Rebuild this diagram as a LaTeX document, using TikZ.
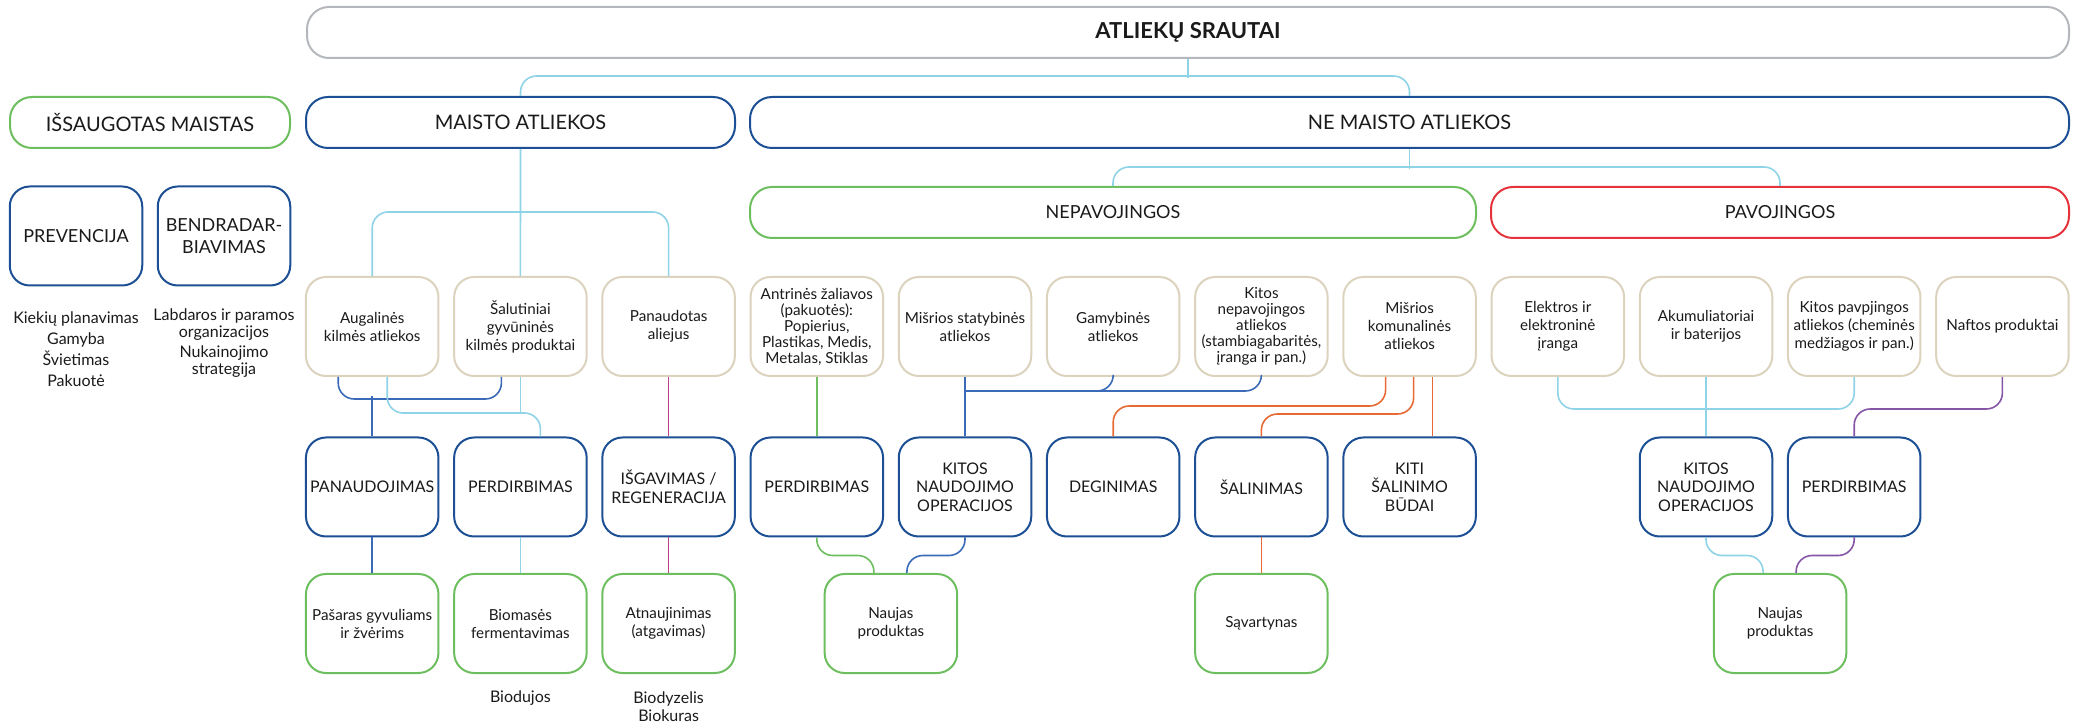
\documentclass[tikz,border=0pt]{standalone}
\usepackage{fontspec}
\setmainfont{Lato}
\usetikzlibrary{calc}
\definecolor{txt}{HTML}{1A1A1A}
\definecolor{gbox}{HTML}{B4B8BD}
\definecolor{dblue}{HTML}{1D4F94}
\definecolor{bgreen}{HTML}{6DBE5E}
\definecolor{bred}{HTML}{E5333B}
\definecolor{beige}{HTML}{DCD3BE}
\definecolor{lblue}{HTML}{8ED3E6}
\definecolor{cblue}{HTML}{3B6BB8}
\definecolor{corange}{HTML}{E86A33}
\definecolor{cmagenta}{HTML}{B8408F}
\definecolor{cpurple}{HTML}{8656A6}
\begin{document}
\begin{tikzpicture}[x=0.5pt,y=-0.5pt,
  box/.style={draw, line width=1pt, rounded corners=10pt, align=center, inner sep=0pt, text=txt},
  srcbox/.style={box, draw=beige, minimum width=66.25pt, minimum height=49.5pt, font=\fontsize{7.6}{9}\selectfont},
  opbox/.style={box, draw=dblue, minimum width=66.25pt, minimum height=49.5pt, font=\fontsize{8}{9.3}\selectfont},
  resbox/.style={box, draw=bgreen, minimum width=66.25pt, minimum height=49.5pt, font=\fontsize{7.6}{9}\selectfont},
  widebox/.style={box, minimum height=25.5pt, rounded corners=11pt},
  note/.style={align=center, inner sep=0pt, text=txt, font=\fontsize{8}{10.5}\selectfont},
  conn/.style={line width=0.8pt, rounded corners=8pt}]
\useasboundingbox (0,0) rectangle (2082,726);
% levels 1-3
\node[widebox, draw=gbox, minimum width=881pt, font=\fontsize{11}{13}\selectfont\bfseries] (srautai) at (1188,32.5) {ATLIEKŲ SRAUTAI};
\node[widebox, draw=bgreen, minimum width=140pt, font=\fontsize{10}{12}\selectfont] (issaug) at (150,122.5) {IŠSAUGOTAS MAISTAS};
\node[widebox, draw=dblue, minimum width=214.5pt, font=\fontsize{10}{12}\selectfont] (maisto) at (520.5,122.5) {MAISTO ATLIEKOS};
\node[widebox, draw=dblue, minimum width=659.5pt, font=\fontsize{10}{12}\selectfont] (nemaisto) at (1409.5,122.5) {NE MAISTO ATLIEKOS};
\node[widebox, draw=bgreen, minimum width=363pt, font=\fontsize{9}{11}\selectfont] (nepav) at (1113,212.5) {NEPAVOJINGOS};
\node[widebox, draw=bred, minimum width=289pt, font=\fontsize{9}{11}\selectfont] (pav) at (1780,212.5) {PAVOJINGOS};
\node[opbox, font=\fontsize{9}{11}\selectfont] (prev) at (76,236) {PREVENCIJA};
\node[opbox, font=\fontsize{9}{11}\selectfont] (bendr) at (224,236) {BENDRADAR-\\BIAVIMAS};
\node[note] (prevnote) at (76,349) {Kiekių planavimas\\Gamyba\\Švietimas\\Pakuotė};
\node[note, font=\fontsize{8}{8.5}\selectfont] (bendrnote) at (224,343.5) {Labdaros ir paramos\\organizacijos\\[1.5pt]Nukainojimo\\strategija};
% sources
\node[srcbox] (augal) at (372.2,326.5) {Augalinės\\kilmės atliekos};
\node[srcbox] (salut) at (520.4,326.5) {Šalutiniai\\gyvūninės\\kilmės produktai};
\node[srcbox] (aliejus) at (668.6,326.5) {Panaudotas\\aliejus};
\node[srcbox, font=\fontsize{7.6}{8}\selectfont] (antrin) at (816.8,326.5) {Antrinės žaliavos\\(pakuotės):\\Popierius,\\Plastikas, Medis,\\Metalas, Stiklas};
\node[srcbox] (statyb) at (965,326.5) {Mišrios statybinės\\atliekos};
\node[srcbox] (gamyb) at (1113.2,326.5) {Gamybinės\\atliekos};
\node[srcbox, font=\fontsize{7.6}{8}\selectfont] (kitnep) at (1261.4,326.5) {Kitos\\nepavojingos\\atliekos\\(stambiagabaritės,\\įranga ir pan.)};
\node[srcbox] (komun) at (1409.6,326.5) {Mišrios\\komunalinės\\atliekos};
\node[srcbox] (elekt) at (1557.8,326.5) {Elektros ir\\elektroninė\\įranga};
\node[srcbox] (akum) at (1706,326.5) {Akumuliatoriai\\ir baterijos};
\node[srcbox] (kitpav) at (1854.2,326.5) {Kitos pavpjingos\\atliekos (cheminės\\medžiagos ir pan.)};
\node[srcbox] (nafta) at (2002.4,326.5) {Naftos produktai};
% operations
\node[opbox] (panaud) at (372.2,487) {PANAUDOJIMAS};
\node[opbox] (perdirA) at (520.4,487) {PERDIRBIMAS};
\node[opbox] (isgav) at (668.6,487) {IŠGAVIMAS /\\REGENERACIJA};
\node[opbox] (perdirB) at (816.8,487) {PERDIRBIMAS};
\node[opbox] (kitosA) at (965,487) {KITOS\\NAUDOJIMO\\OPERACIJOS};
\node[opbox] (degin) at (1113.2,487) {DEGINIMAS};
\node[opbox] (salin) at (1261.4,487) {ŠALINIMAS};
\node[opbox] (kiti) at (1409.6,487) {KITI\\ŠALINIMO\\BŪDAI};
\node[opbox] (kitosB) at (1706,487) {KITOS\\NAUDOJIMO\\OPERACIJOS};
\node[opbox] (perdirC) at (1854.2,487) {PERDIRBIMAS};
% results
\node[resbox] (pasaras) at (372.2,623.5) {Pašaras gyvuliams\\ir žvėrims};
\node[resbox] (biomas) at (520.4,623.5) {Biomasės\\fermentavimas};
\node[resbox] (atnauj) at (668.6,623.5) {Atnaujinimas\\(atgavimas)};
\node[resbox] (naujasA) at (890.9,623.5) {Naujas\\produktas};
\node[resbox] (savart) at (1261.4,623.5) {Sąvartynas};
\node[resbox] (naujasB) at (1780.1,623.5) {Naujas\\produktas};
\node[note] (biodujos) at (520.4,698) {Biodujos};
\node[note, font=\fontsize{8}{9}\selectfont] (biokuras) at (668.6,707) {Biodyzelis\\Biokuras};
% connectors
\draw[conn, lblue] (srautai.south) -- ++(0,19);
\draw[conn, lblue] (maisto.north) -- ++(0,-20) -| (nemaisto.north);
\draw[conn, lblue] (nemaisto.south) -- ++(0,20);
\draw[conn, lblue] (nepav.north) -- ++(0,-19) -| (pav.north);
\draw[conn, lblue] (maisto.south) -- (salut.north);
\draw[conn, lblue] (augal.north) -- ++(0,-64) -| (aliejus.north);
\draw[conn, cblue] ($(augal.south)+(-34,0)$) -- ++(0,22) -| ($(salut.south)+(-19,0)$);
\draw[conn, cblue] (panaud.north) -- ++(0,-40);
\draw[conn, lblue] ($(augal.south)+(15,0)$) -- ++(0,36) -| ($(perdirA.north)+(20,0)$);
\draw[conn, lblue] (salut.south) -- ++(0,36);
\draw[conn, cmagenta] (aliejus.south) -- (isgav.north);
\draw[conn, cblue] (panaud.south) -- (pasaras.north);
\draw[conn, lblue] (perdirA.south) -- (biomas.north);
\draw[conn, cmagenta] (isgav.south) -- (atnauj.north);
\draw[conn, bgreen] (antrin.south) -- (perdirB.north);
\draw[conn, cblue] (statyb.south) -- (kitosA.north);
\draw[conn, cblue] (kitnep.south) |- ($(statyb.south)+(0,14)$);
\draw[conn, cblue] (gamyb.south) |- ($(statyb.south)+(0,14)$);
\draw[conn, corange] ($(komun.south)+(-24,0)$) -- ++(0,29) -| (degin.north);
\draw[conn, corange] ($(komun.south)+(4,0)$) -- ++(0,37) -| (salin.north);
\draw[conn, corange] ($(komun.south)+(23,0)$) -- ($(kiti.north)+(23,0)$);
\draw[conn, corange] (salin.south) -- (savart.north);
\draw[conn, bgreen] (perdirB.south) -- ++(0,18) -| ($(naujasA.north)+(-17,0)$);
\draw[conn, cblue] (kitosA.south) -- ++(0,18) -| ($(naujasA.north)+(16,0)$);
\draw[conn, lblue] (elekt.south) -- ++(0,32) -| (kitpav.south);
\draw[conn, lblue] (akum.south) -- (kitosB.north);
\draw[conn, cpurple] (nafta.south) -- ++(0,32) -| (perdirC.north);
\draw[conn, lblue] (kitosB.south) -- ++(0,18) -| ($(naujasB.north)+(-17,0)$);
\draw[conn, cpurple] (perdirC.south) -- ++(0,18) -| ($(naujasB.north)+(16,0)$);
\end{tikzpicture}
\end{document}
